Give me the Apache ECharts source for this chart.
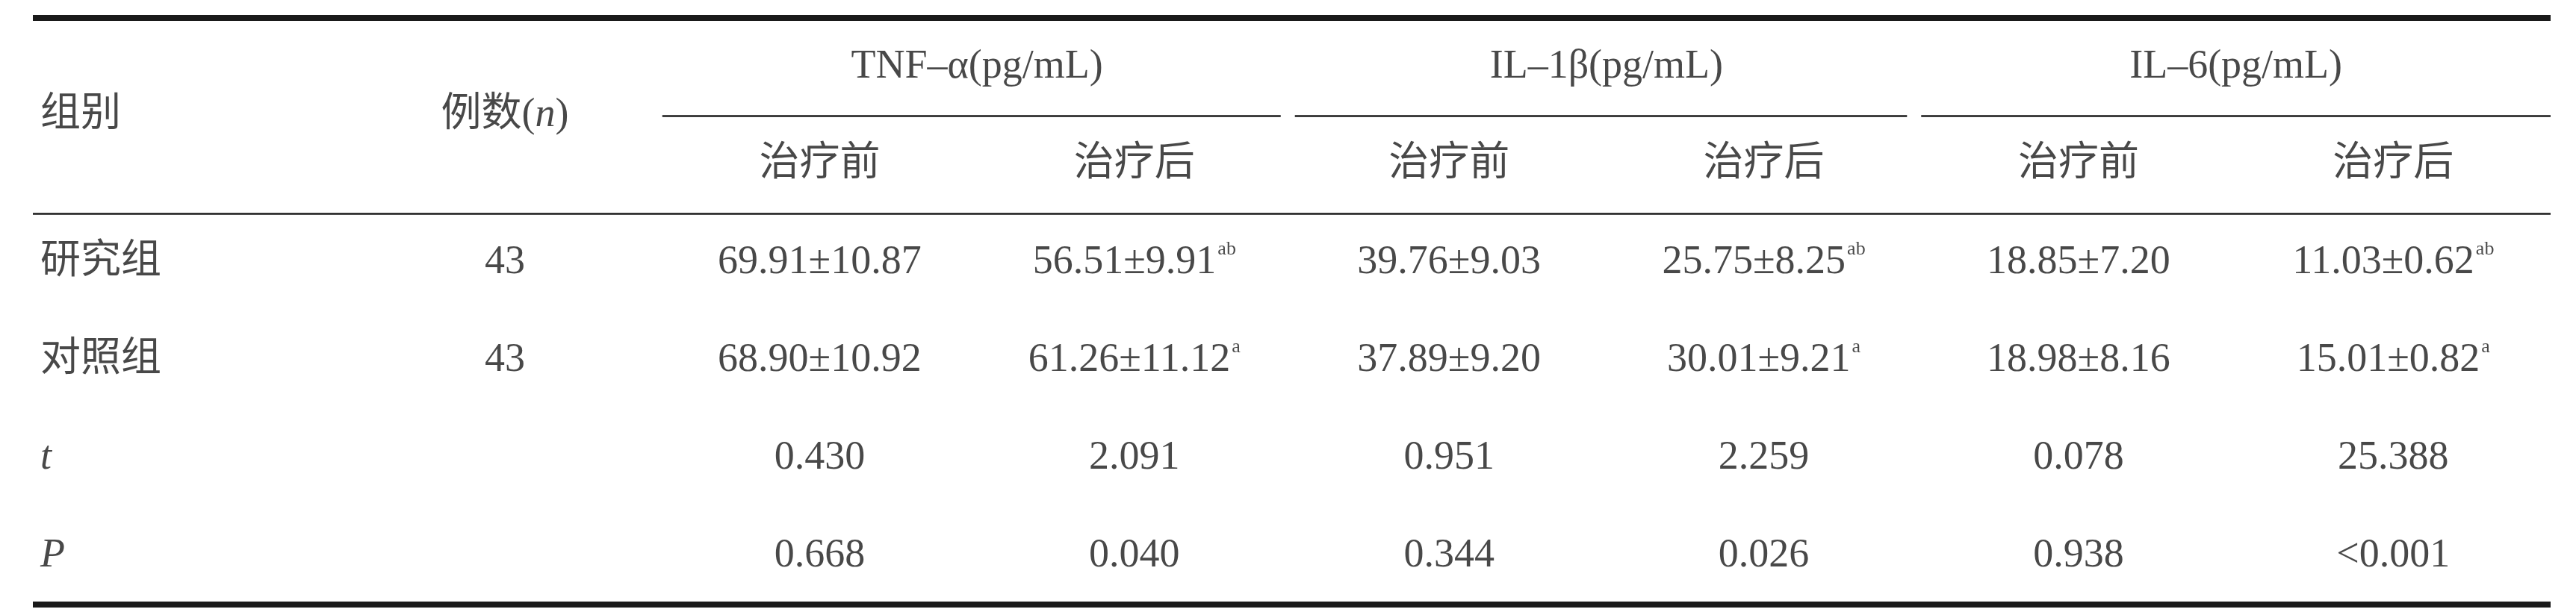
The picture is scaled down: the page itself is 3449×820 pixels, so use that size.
<!DOCTYPE html>
<html><head><meta charset="utf-8">
<script src="https://cdn.jsdelivr.net/npm/echarts@6/dist/echarts.min.js"></script>
<style>html,body{margin:0;padding:0;background:#fff}#c{width:3449px;height:820px}</style>
</head><body><div id="c"></div>
<script>
// ---- table content ----
const rowLabels = ["研究组", "对照组", "t", "P"];
const rowItalic = [false, false, true, true];
const nValues = ["43", "43", "", ""];
const tnfBefore = ["69.91±10.87", "68.90±10.92", "0.430", "0.668"];
const tnfAfter = ["56.51±9.91", "61.26±11.12", "2.091", "0.040"];
const tnfAfterSup = ["ab", "a", "", ""];
const il1Before = ["39.76±9.03", "37.89±9.20", "0.951", "0.344"];
const il1After = ["25.75±8.25", "30.01±9.21", "2.259", "0.026"];
const il1AfterSup = ["ab", "a", "", ""];
const il6Before = ["18.85±7.20", "18.98±8.16", "0.078", "0.938"];
const il6After = ["11.03±0.62", "15.01±0.82", "25.388", "<0.001"];
const il6AfterSup = ["ab", "a", "", ""];
const groupHeaders = ["TNF–α(pg/mL)", "IL–1β(pg/mL)", "IL–6(pg/mL)"];
const subHeaders = ["治疗前", "治疗后"];
const headGroup = "组别";
const headN = ["例数(", "n", ")"];

// ---- layout (table grid coordinates: column index / row index) ----
const valueColumns = [
  { vals: nValues, sup: null },
  { vals: tnfBefore, sup: null },
  { vals: tnfAfter, sup: tnfAfterSup },
  { vals: il1Before, sup: null },
  { vals: il1After, sup: il1AfterSup },
  { vals: il6Before, sup: null },
  { vals: il6After, sup: il6AfterSup }
];

const INK = '#1a1a1a';
const FONT = "'Liberation Serif','Noto Sans CJK SC',serif";
const FS = 54;
const rich = {
  t: { fontSize: FS, fontFamily: FONT, color: INK, lineHeight: 60 },
  i: { fontSize: FS, fontFamily: FONT, color: INK, fontStyle: 'italic', lineHeight: 60 },
  s: { fontSize: 26, fontFamily: FONT, color: INK, verticalAlign: 'top', lineHeight: 26, padding: [0, 0, 0, 2] }
};

const cells = [];
// header rows
groupHeaders.forEach((h, g) => cells.push({ value: [2.5 + 2 * g, -2], rt: `{t|${h}}` }));
for (let g = 0; g < 3; g++) {
  subHeaders.forEach((s, k) => cells.push({ value: [2 + 2 * g + k, -1], rt: `{t|${s}}` }));
}
cells.push({ value: [1, -1.5], rt: `{t|${headN[0]}}{i|${headN[1]}}{t|${headN[2]}}` });
// body
valueColumns.forEach((col, c) => {
  col.vals.forEach((v, r) => {
    if (!v) return;
    const sup = col.sup && col.sup[r] ? `{s|${col.sup[r]}}` : '';
    cells.push({ value: [c + 1, r], rt: `{t|${v}}${sup}` });
  });
});

// left-aligned first column
const leftCells = [{ value: [-0.5, -1.5], rt: `{t|${headGroup}}` }];
rowLabels.forEach((l, r) => leftCells.push({ value: [-0.5, r], rt: rowItalic[r] ? `{i|${l}}` : `{t|${l}}` }));

// horizontal rules in table coordinates
function rule(x1, x2, y, w) {
  return [{ coord: [x1, y], lineStyle: { width: w, color: INK, type: 'solid' } }, { coord: [x2, y] }];
}
const rules = [
  rule(-0.5, 7.5, -2.5, 8),
  rule(1.5, 3.465, -1.5, 2.5),
  rule(3.51, 5.455, -1.5, 2.5),
  rule(5.5, 7.5, -1.5, 2.5),
  rule(-0.5, 7.5, -0.5, 2.5),
  rule(-0.5, 7.5, 3.5, 8)
];

const chart = echarts.init(document.getElementById('c'), null, { renderer: 'canvas' });
chart.setOption({
  animation: false,
  backgroundColor: '#ffffff',
  grid: { left: 44, right: 34, top: 24, bottom: 10 },
  xAxis: { type: 'value', min: -0.5, max: 7.5, show: false },
  yAxis: { type: 'value', min: -2.5, max: 3.5, inverse: true, show: false },
  series: [
    {
      type: 'scatter', symbolSize: 0, silent: true,
      itemStyle: { color: 'rgba(0,0,0,0)' },
      data: cells,
      label: {
        show: true, position: 'inside', align: 'center', verticalAlign: 'middle',
        formatter: p => p.data.rt, rich: rich
      },
      markLine: {
        silent: true, symbol: ['none', 'none'], label: { show: false },
        emphasis: { disabled: true },
        lineStyle: { color: INK, type: 'solid' },
        data: rules
      }
    },
    {
      type: 'scatter', symbolSize: 0, silent: true,
      itemStyle: { color: 'rgba(0,0,0,0)' },
      data: leftCells,
      label: {
        show: true, position: 'inside', align: 'left', verticalAlign: 'middle', offset: [10, 0],
        formatter: p => p.data.rt, rich: rich
      }
    }
  ]
});
</script></body></html>
